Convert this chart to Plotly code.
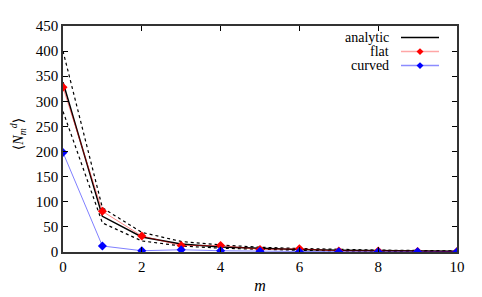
import plotly.graph_objects as go

m = list(range(11))
analytic = [338, 71, 30, 16, 10, 7, 5, 3.5, 2.5, 2, 1.5]
analytic_upper = [400, 88, 39, 21, 14, 9.5, 7, 5, 3.8, 3, 2.2]
analytic_lower = [280, 58, 22, 12, 7.5, 5, 3.5, 2.5, 1.8, 1.3, 1.0]
flat = [328, 81, 32, 13, 13, 5, 6.4, 2, 2, 1, 1]
curved = [198, 12, 2.5, 4.5, 2.5, 1.5, 0.5, 0.4, 0.4, 0.3, 0.3]

xticks = [0, 2, 4, 6, 8, 10]
yticks = [0, 50, 100, 150, 200, 250, 300, 350, 400, 450]

FONT = "Liberation Serif, DejaVu Serif, serif"

# plot area in page pixels (page has ~7px body offset)
L, R, T, B = 55, 33, 10, 53
PW, PH = 482 - L - R, 297 - T - B
OX, OY = 7, 6  # page offset

fig = go.Figure()
for ys in (analytic_upper, analytic_lower):
    fig.add_trace(go.Scatter(x=m, y=ys, mode="lines",
                             line=dict(color="black", width=1.2, dash="dot"),
                             showlegend=False))
fig.add_trace(go.Scatter(x=m, y=analytic, mode="lines",
                         line=dict(color="black", width=1.5), showlegend=False))
fig.add_trace(go.Scatter(x=m, y=flat, mode="lines+markers",
                         line=dict(color="rgba(255,0,0,0.45)", width=1),
                         marker=dict(color="red", symbol="diamond", size=7),
                         showlegend=False))
fig.add_trace(go.Scatter(x=m, y=curved, mode="lines+markers",
                         line=dict(color="rgba(0,0,255,0.5)", width=1),
                         marker=dict(color="blue", symbol="diamond", size=7),
                         showlegend=False))


def px(xpix):
    # page pixel -> paper x
    return (xpix - OX - L) / PW


def pyy(ypix):
    # page pixel -> paper y
    top = T + OY
    return 1 - (ypix - top) / PH


legend_items = [("analytic", "black", None), ("flat", "rgba(255,0,0,0.35)", "red"),
                ("curved", "rgba(0,0,255,0.45)", "blue")]
shapes = []
annotations = []
x_text = px(390)
x0 = px(400)
x1 = px(438)
xm = px(419)
for i, (name, lc, mc) in enumerate(legend_items):
    yp = pyy(28 + i * 14.5)
    annotations.append(dict(x=x_text, y=yp, xref="paper", yref="paper", text=name,
                            showarrow=False, xanchor="right", yanchor="middle",
                            font=dict(family=FONT, size=14, color="black")))
    shapes.append(dict(type="line", xref="paper", yref="paper", x0=x0, x1=x1,
                       y0=yp, y1=yp, line=dict(color=lc, width=1.5)))
    if mc:
        dx = 3.5 / PW
        dy = 3.5 / PH
        shapes.append(dict(type="path", xref="paper", yref="paper",
                           path=f"M {xm-dx} {yp} L {xm} {yp+dy} L {xm+dx} {yp} L {xm} {yp-dy} Z",
                           fillcolor=mc, line=dict(color=mc, width=0)))

annotations.append(dict(x=px(17), y=pyy(128), xref="paper", yref="paper",
                        text="⟨<i>N</i><sub><i>m</i></sub><sup><i>d</i></sup>⟩",
                        textangle=-90, showarrow=False, xanchor="center", yanchor="middle",
                        font=dict(family=FONT, size=14, color="black")))

fig.update_layout(
    width=482, height=297,
    margin=dict(l=L, r=R, t=T, b=B),
    paper_bgcolor="white", plot_bgcolor="white",
    font=dict(family=FONT, size=15, color="black"),
    shapes=shapes, annotations=annotations,
    showlegend=False,
)
fig.update_xaxes(range=[0, 10], tickvals=xticks, ticks="inside", ticklen=5,
                 tickcolor="black", mirror="ticks", showline=True, linecolor="#333",
                 linewidth=1.5, showgrid=False, zeroline=False,
                 title=dict(text="<i>m</i>", standoff=6, font=dict(family=FONT, size=16)))
fig.update_yaxes(range=[0, 450], tickvals=yticks, ticks="inside", ticklen=5,
                 tickcolor="black", mirror="ticks", showline=True, linecolor="#333",
                 linewidth=1.5, showgrid=False, zeroline=False)

fig.write_html("out.html")
